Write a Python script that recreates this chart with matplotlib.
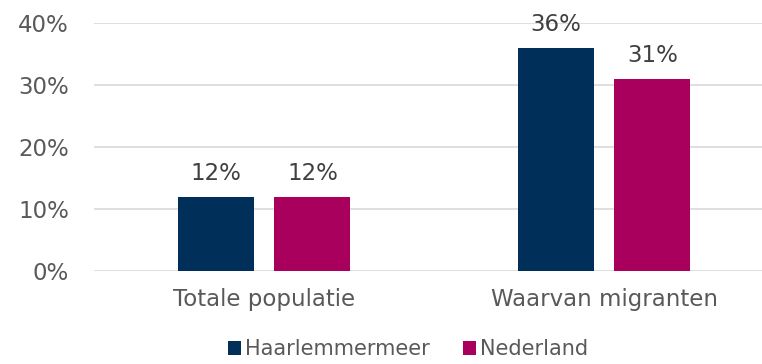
import numpy as np
import matplotlib
matplotlib.use("Agg")
import matplotlib.pyplot as plt
import matplotlib.ticker as mticker

# ─── Data ────────────────────────────────────────────────────────────────
categories = ["Totale populatie", "Waarvan migranten"]
haarlemmermeer = [0.12, 0.36]
nederland = [0.12, 0.31]
series_names = ["Haarlemmermeer", "Nederland"]
y_ticks = [0.0, 0.1, 0.2, 0.3, 0.4]

NAVY = "#003059"
MAGENTA = "#A8005C"
GREY = "#595959"
FS = 16.5

plt.rcParams["font.family"] = ["DejaVu Sans"]

fig = plt.figure(figsize=(7.62, 3.64), dpi=100)
# plot area runs slightly past the right edge, so the gridlines bleed off
ax = fig.add_axes([0.1234, 0.2555, 0.8924, 0.6813])

x = np.arange(len(categories))
w = 0.2235
off = 0.1425
b1 = ax.bar(x - off, haarlemmermeer, w, color=NAVY, label=series_names[0], zorder=3)
b2 = ax.bar(x + off, nederland, w, color=MAGENTA, label=series_names[1], zorder=3)

for bars in (b1, b2):
    for rect in bars:
        v = rect.get_height()
        ax.text(rect.get_x() + rect.get_width() / 2, v + 0.019, f"{v*100:.0f}%",
                ha="center", va="bottom", fontsize=FS, color="#404040", zorder=4)

ax.set_xlim(-0.5, 1.5)
ax.set_ylim(0, 0.4)
ax.set_yticks(y_ticks)
ax.yaxis.set_major_formatter(mticker.PercentFormatter(xmax=1, decimals=0))
ax.set_xticks(x)
ax.set_xticklabels(categories)
ax.tick_params(axis="both", length=0, labelsize=FS, labelcolor=GREY)
ax.tick_params(axis="x", pad=12)
ax.tick_params(axis="y", pad=18)
ax.grid(axis="y", color="#D9D9D9", lw=1.2, zorder=0)
for s in ax.spines.values():
    s.set_visible(False)

ax.legend(loc="upper center", bbox_to_anchor=(0.462, -0.225), ncol=2, frameon=False,
          fontsize=15, labelcolor=GREY, handlelength=0.6, handleheight=0.6,
          handletextpad=0.2, columnspacing=1.6, borderpad=0.1)

fig.savefig("out.png", dpi=100)
